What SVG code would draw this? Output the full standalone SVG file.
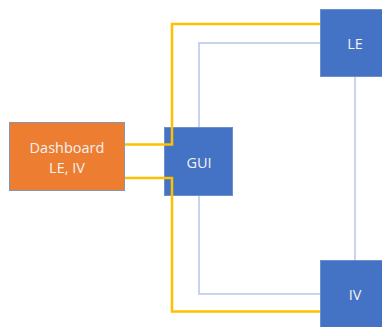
<svg xmlns="http://www.w3.org/2000/svg" width="382" height="327" viewBox="0 0 382 327">
<style>
.box{stroke:#6F8FC8;stroke-width:1}
.blue{fill:#4472C4}
.orange{fill:#ED7D31;stroke:#8497B0}
.lbl{font-family:"Open Sans","Liberation Sans",sans-serif;font-size:14.5px;fill:#F2F2F2;text-anchor:middle;dominant-baseline:central}
.y{fill:none;stroke:#FFC000;stroke-width:2.5}
.b{fill:none;stroke:#B4C7E7;stroke-width:1.5}
</style>
<rect width="382" height="327" fill="#FFFFFF"/>
<g id="dashboard">
<rect class="box orange" x="9.5" y="122.5" width="115" height="68"/>
<text class="lbl" x="67" y="147">Dashboard</text>
<text class="lbl" x="67" y="167">LE, IV</text>
</g>
<g id="gui">
<rect class="box blue" x="164.5" y="127.5" width="68" height="68"/>
<text class="lbl" x="199" y="162">GUI</text>
</g>
<g id="le">
<rect class="box blue" x="320.5" y="9.5" width="70" height="67"/>
<text class="lbl" x="355" y="43">LE</text>
</g>
<g id="iv">
<rect class="box blue" x="320.5" y="260.5" width="70" height="70"/>
<text class="lbl" x="355" y="294">IV</text>
</g>
<g id="connectors">
<polyline class="b" points="199,127 199,43 320,43"/>
<polyline class="b" points="199,196 199,294 320,294"/>
<polyline class="b" points="355,77 355,260"/>
<polyline class="y" points="125,144.5 172,144.5 172,24 320,24"/>
<polyline class="y" points="125,178 172,178 172,311.5 320,311.5"/>
</g>
</svg>
